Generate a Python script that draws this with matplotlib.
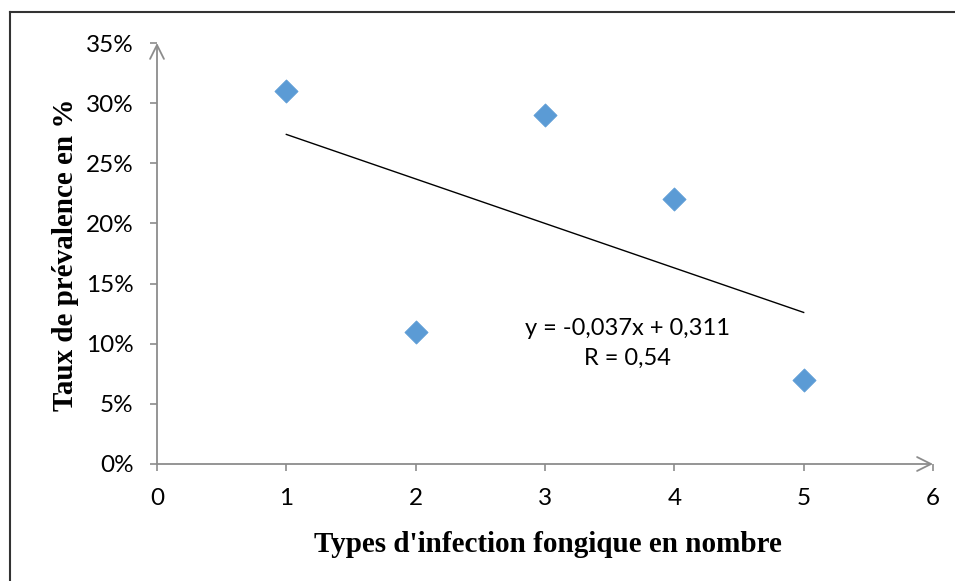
import matplotlib
matplotlib.use("Agg")
import matplotlib.pyplot as plt
from matplotlib.lines import Line2D
import numpy as np

# Data
types = [1, 2, 3, 4, 5]
prevalence = [0.31, 0.11, 0.29, 0.22, 0.07]
slope = -0.037
intercept = 0.311
x_ticks = [0, 1, 2, 3, 4, 5, 6]
y_ticks = [0, 0.05, 0.10, 0.15, 0.20, 0.25, 0.30, 0.35]
y_tick_labels = ["0%", "5%", "10%", "15%", "20%", "25%", "30%", "35%"]
eq_text = "y = -0,037x + 0,311"
r_text = "R = 0,54"
x_title = "Types d'infection fongique en nombre"
y_title = "Taux de prévalence en %"

W, H = 955, 581
fig = plt.figure(figsize=(W / 100, H / 100), dpi=100)
ax = fig.add_axes([157 / W, (H - 464) / H, 776 / W, 421 / H])

axis_col = "#8c8c8c"
tick_font = {"family": ["Lato", "DejaVu Sans"], "size": 17.5}

ax.scatter(types, prevalence, marker="D", s=140, color="#5B9BD5", edgecolors="#5B9BD5",
           linewidths=0.5, zorder=3)
xt = np.array([types[0], types[-1]])
ax.plot(xt, slope * xt + intercept, color="black", lw=1.0, zorder=2)

ax.set_xlim(0, 6)
ax.set_ylim(0, 0.35)
ax.set_xticks(x_ticks)
ax.set_xticklabels([str(v) for v in x_ticks], fontdict=tick_font)
ax.set_yticks(y_ticks)
ax.set_yticklabels(y_tick_labels, fontdict=tick_font)
ax.tick_params(axis="both", direction="out", length=5, width=1.2, color=axis_col,
               labelcolor="black")
ax.tick_params(axis="y", pad=12)
ax.tick_params(axis="x", pad=12)
for s in ax.spines.values():
    s.set_visible(False)

# axes with arrowheads
ax.annotate("", xy=(0, 1.0), xytext=(0, 0), xycoords="axes fraction",
            arrowprops=dict(arrowstyle="->,head_length=1.0,head_width=0.5", color=axis_col,
                            lw=1.3, shrinkA=0, shrinkB=0), annotation_clip=False)
ax.annotate("", xy=(1.0, 0), xytext=(0, 0), xycoords="axes fraction",
            arrowprops=dict(arrowstyle="->,head_length=1.0,head_width=0.5", color=axis_col,
                            lw=1.3, shrinkA=0, shrinkB=0), annotation_clip=False)

ax.text(3.64, 0.113, eq_text, ha="center", va="center", fontsize=17,
        family=["Lato", "DejaVu Sans"])
ax.text(3.64, 0.088, r_text, ha="center", va="center", fontsize=17,
        family=["Lato", "DejaVu Sans"])

fig.text(548 / W, 1 - 545 / H, x_title, ha="center", va="center", fontsize=21,
         fontweight="bold", family=["Liberation Serif", "DejaVu Serif"])
fig.text(66 / W, 1 - 255 / H, y_title, ha="center", va="center", fontsize=21,
         fontweight="bold", rotation=90, family=["Liberation Serif", "DejaVu Serif"])

# chart frame (top and left visible)
fig.add_artist(Line2D([10 / W, 1.0], [1 - 12 / H, 1 - 12 / H], transform=fig.transFigure,
                      color="#333333", lw=1.5))
fig.add_artist(Line2D([10 / W, 10 / W], [0, 1 - 12 / H], transform=fig.transFigure,
                      color="#333333", lw=1.5))

fig.savefig("out.png", dpi=100)
